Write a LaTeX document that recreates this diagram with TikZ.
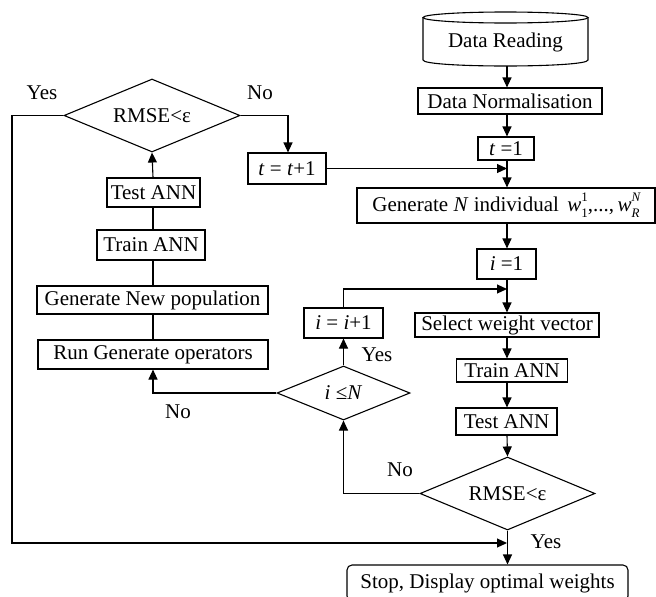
\documentclass[tikz,border=0pt]{standalone}
\usepackage{fontspec}
\setmainfont{Liberation Serif}
\usetikzlibrary{shapes.geometric,arrows.meta}
\newcommand\smallidx{\fontsize{13}{13}\selectfont}
\newcommand\wsubsup[2]{\textit{w}\makebox[0pt][l]{\raisebox{0.48em}{\smallidx #2}}\raisebox{-0.3em}{\smallidx #1}}
\begin{document}
\begin{tikzpicture}[x=1pt,y=-1pt,
  font=\fontsize{21}{24}\selectfont,
  line width=1.1pt,
  box/.style={draw, rectangle, inner sep=0pt},
  dia/.style={draw, diamond, aspect=2.4, inner sep=0pt},
  arr/.style={-{Triangle[length=10pt,width=9pt]}},
  lbl/.style={inner sep=0pt}]
\useasboundingbox (0,0) rectangle (656,597);
% column guides
\coordinate (col) at (507,0);
\coordinate (lcol) at (153,0);
% cylinder
\draw (505.5,17.5) ellipse [x radius=82.5, y radius=5.5];
\draw (423,17.5) -- (423,60) .. controls (423,68) and (588,68) .. (588,60) -- (588,17.5);
\node[lbl] (dr) at (505.5,42) {Data Reading};
\coordinate (drb) at (507,66);
% right column
\node[box, minimum width=184pt, minimum height=26pt] (norm) at (510,101) {Data Normalisation};
\node[box, minimum width=56pt, minimum height=23pt] (t1) at (506,148.5) {\textit{t} =1};
\node[box, minimum width=298pt, minimum height=35pt] (gen) at (506,205.5) {Generate \textit{N} individual\hspace{0.4em}\wsubsup{1}{1},...,\,\wsubsup{\textit{R}}{\textit{N}}};
\node[box, minimum width=59pt, minimum height=30pt] (i1) at (506.5,264) {\textit{i} =1};
\node[box, minimum width=184pt, minimum height=24pt] (sel) at (507,325) {Select weight vector};
\node[box, minimum width=111pt, minimum height=23pt] (trainR) at (512,370.5) {Train ANN};
\node[box, minimum width=101pt, minimum height=27pt] (testR) at (506.5,421.5) {Test ANN};
\node[dia, minimum width=175pt, minimum height=73pt] (rmseR) at (507.5,493.5) {RMSE<ε};
\node[box, rounded corners=5pt, minimum width=281pt, minimum height=36pt] (stop) at (487.5,583) {Stop, Display optimal weights};
% middle
\node[box, minimum width=78pt, minimum height=31pt] (tt1) at (287,168.5) {\textit{t} = \textit{t}+1};
\node[box, minimum width=79pt, minimum height=30pt] (ii1) at (343.5,323) {\textit{i} = \textit{i}+1};
\node[dia, minimum width=133pt, minimum height=54pt] (ileN) at (343.5,393) {\textit{i} ≤\textit{N}};
% left column
\node[dia, minimum width=176pt, minimum height=73pt] (rmseL) at (152,115.5) {RMSE<ε};
\node[box, minimum width=93pt, minimum height=29pt] (testL) at (153.5,192.5) {Test ANN};
\node[box, minimum width=108pt, minimum height=30pt] (trainL) at (151,245) {Train ANN};
\node[box, minimum width=231pt, minimum height=28pt] (genpop) at (152.5,300) {Generate New population};
\node[box, minimum width=230pt, minimum height=29pt] (run) at (153,354.5) {Run Generate operators};
% labels
\node[lbl] (yes1) at (42,93) {Yes};
\node[lbl] (no1) at (260,93) {No};
\node[lbl] (yes2) at (377,355) {Yes};
\node[lbl] (no2) at (178,412) {No};
\node[lbl] (no3) at (400,470) {No};
\node[lbl] (yes3) at (546,542) {Yes};
% free corner points
\coordinate (c1) at (288,0);
\coordinate (c2) at (12,0);
\coordinate (c3) at (0,543);
\coordinate (c4) at (0,289);
% right column connectors
\draw[arr] (drb) -- (drb |- norm.north);
\draw[arr] (col |- norm.south) -- (col |- t1.north);
\draw[arr] (col |- t1.south) -- (col |- gen.north);
\draw[arr] (tt1.east) -- (tt1.east -| col);
\draw[arr] (col |- gen.south) -- (col |- i1.north);
\draw[arr] (col |- i1.south) -- (col |- sel.north);
\draw[arr] (ii1.north) -- (ii1.north |- c4) -- (c4 -| col);
\draw[arr] (col |- sel.south) -- (col |- trainR.north);
\draw[arr] (col |- trainR.south) -- (col |- testR.north);
\draw[arr] (col |- testR.south) -- (rmseR.north);
\draw[arr] (rmseR.south) -- (rmseR.south |- stop.north);
% middle connectors
\draw[arr] (rmseR.west) -- (rmseR.west -| ileN.south) -- (ileN.south);
\draw[arr] (ileN.north) -- (ii1.south);
\draw[arr] (ileN.west) -- (ileN.west -| lcol) -- (lcol |- run.south);
% left column connectors
\draw (lcol |- run.north) -- (lcol |- genpop.south);
\draw (lcol |- genpop.north) -- (lcol |- trainL.south);
\draw (lcol |- trainL.north) -- (lcol |- testL.south);
\draw[arr] (lcol |- testL.north) -- (rmseL.south);
\draw[arr] (rmseL.east) -- (rmseL.east -| c1) -- (c1 |- tt1.north);
\draw[arr] (rmseL.west) -- (rmseL.west -| c2) -- (c2 |- c3) -- (c3 -| col);
\end{tikzpicture}
\end{document}
